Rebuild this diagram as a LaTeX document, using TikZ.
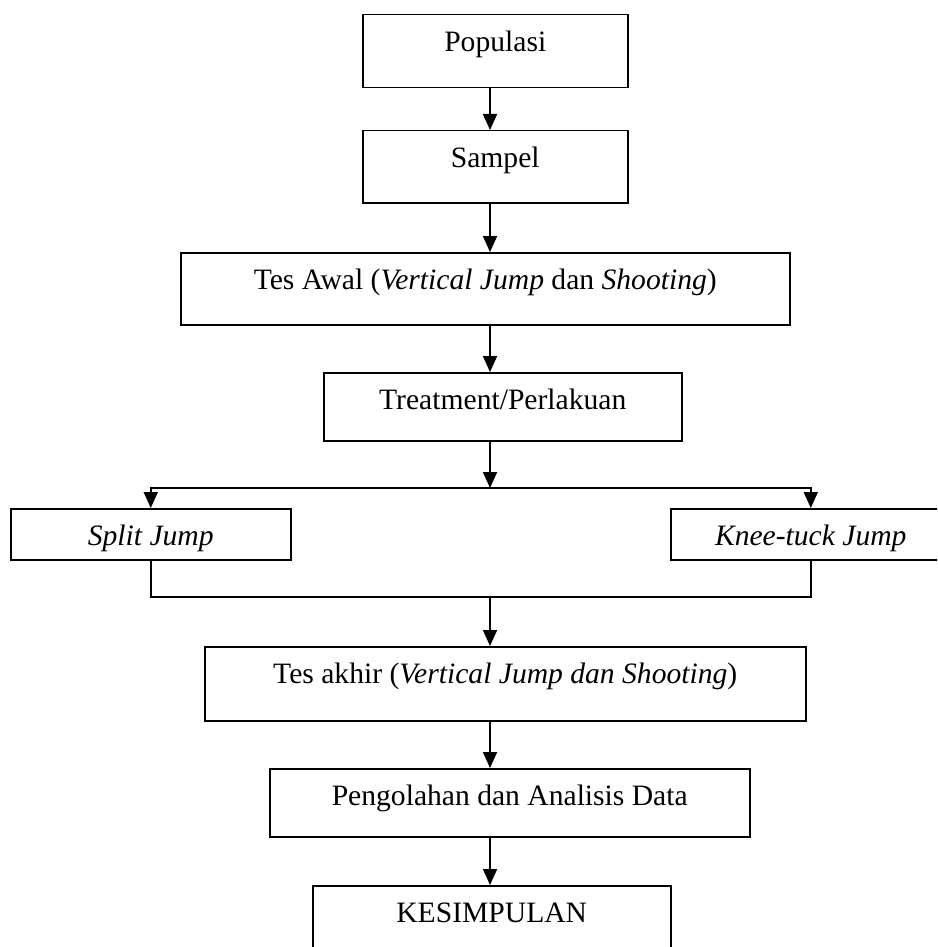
\documentclass[tikz,border=0pt]{standalone}
\usepackage{fontspec}
\setmainfont{Liberation Serif}
\usetikzlibrary{arrows.meta}
\begin{document}
\begin{tikzpicture}[x=1pt,y=-1pt,
  box/.style={draw, line width=1.5pt, inner xsep=0pt, inner ysep=0pt, anchor=north west,
    text height=37pt, font=\fontsize{29.6}{34}\selectfont},
  arr/.style={line width=1.8pt, -{Triangle[width=14pt,length=16pt]}},
  ln/.style={line width=1.8pt}]
\useasboundingbox (0,0) rectangle (937,947);
\clip (0,0) rectangle (937,947);
\node[box, minimum width=265pt, text depth=36pt] (pop) at (362,14) {Populasi};
\node[box, minimum width=265pt, text depth=35pt] (sam) at (362,130) {Sampel};
\node[box, minimum width=609pt, text depth=35pt] (awal) at (180,252) {Tes Awal (\textit{Vertical Jump} dan \textit{Shooting})};
\node[box, minimum width=358pt, text depth=31pt] (treat) at (323,372) {Treatment/Perlakuan};
\node[box, minimum width=280pt, text depth=14pt] (split) at (10,508) {\textit{Split Jump}};
\node[box, minimum width=280pt, text depth=14pt] (knee) at (670,508) {\textit{Knee-tuck Jump}};
\node[box, minimum width=601pt, text depth=37pt] (akhir) at (204,646) {Tes akhir (\textit{Vertical Jump dan Shooting})};
\node[box, minimum width=480pt, text depth=31pt] (olah) at (269,768) {Pengolahan dan Analisis Data};
\node[box, minimum width=358pt, text depth=53pt] (kes) at (312,885) {KESIMPULAN};
\coordinate (c) at (490,0);
\coordinate (br) at (490,488);
\coordinate (mg) at (490,597);
\draw[arr] (pop.south -| c) -- (sam.north -| c);
\draw[arr] (sam.south -| c) -- (awal.north -| c);
\draw[arr] (awal.south -| c) -- (treat.north -| c);
\draw[arr] (treat.south -| c) -- (br);
\draw[arr] (br) -| (split.north);
\draw[arr] (br) -| (knee.north);
\draw[ln] (split.south) |- (mg);
\draw[ln] (knee.south) |- (mg);
\draw[arr] (mg) -- (akhir.north -| c);
\draw[arr] (akhir.south -| c) -- (olah.north -| c);
\draw[arr] (olah.south -| c) -- (kes.north -| c);
\end{tikzpicture}
\end{document}
